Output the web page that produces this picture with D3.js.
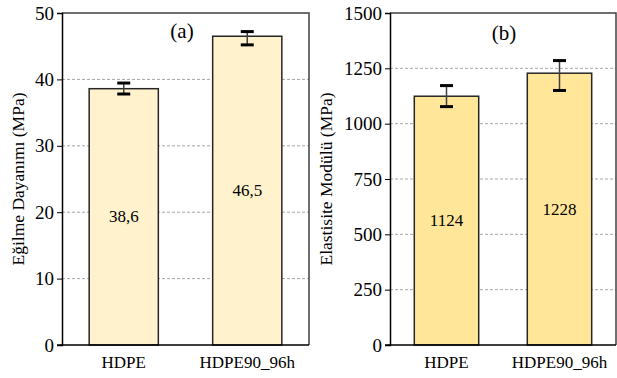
<!DOCTYPE html>
<html><head><meta charset="utf-8">
<script src="https://cdn.jsdelivr.net/npm/d3@7"></script>
<style>
body{margin:0;background:#fff;}
</style></head>
<body><svg id="c" width="617" height="378"></svg>
<script>
const categories = ["HDPE", "HDPE90_96h"];
const strengthValues = [38.6, 46.5];
const strengthLabels = ["38,6", "46,5"];
const strengthErrUp = [0.85, 0.7];
const strengthErrDown = [0.8, 1.3];
const strengthTicks = [0, 10, 20, 30, 40, 50];
const modulusValues = [1124, 1228];
const modulusLabels = ["1124", "1228"];
const modulusErrUp = [48, 57];
const modulusErrDown = [47, 78];
const modulusTicks = [0, 250, 500, 750, 1000, 1250, 1500];

const FONT = "'Liberation Serif', 'Times New Roman', Tinos, 'DejaVu Serif', serif";
const svg = d3.select("#c");

function panel(cfg){
  const g = svg.append("g");
  const x = d3.scaleBand().domain(categories).range([cfg.x0, cfg.x1]).paddingInner(cfg.pad).paddingOuter(cfg.pad/2);
  const y = d3.scaleLinear().domain(cfg.domain).range([cfg.y1, cfg.y0]);
  g.selectAll(".grid").data(cfg.ticks.filter(t=>t>cfg.domain[0] && t<cfg.domain[1])).enter().append("line")
    .attr("x1", cfg.x0).attr("x2", cfg.x1).attr("y1", d=>y(d)).attr("y2", d=>y(d))
    .attr("stroke", "#a6a6a6").attr("stroke-width", 1).attr("stroke-dasharray", "3,2");
  const data = categories.map((c,i)=>({c, v:cfg.values[i], l:cfg.labels[i], up:cfg.up[i], dn:cfg.dn[i]}));
  g.selectAll(".bar").data(data).enter().append("rect")
    .attr("x", d=>x(d.c)).attr("width", x.bandwidth())
    .attr("y", d=>y(d.v)).attr("height", d=>y(cfg.domain[0])-y(d.v))
    .attr("fill", cfg.fill).attr("stroke", "#262626").attr("stroke-width", 1.5);
  g.selectAll(".lab").data(data).enter().append("text")
    .attr("x", d=>x(d.c)+x.bandwidth()/2).attr("y", d=>(y(d.v)+y(cfg.domain[0]))/2)
    .attr("text-anchor","middle").attr("dominant-baseline","central")
    .style("font-family", FONT).attr("font-size", 17).text(d=>d.l);
  data.forEach(d=>{
    const cx = x(d.c)+x.bandwidth()/2;
    g.append("line").attr("x1",cx).attr("x2",cx).attr("y1",y(d.v+d.up)).attr("y2",y(d.v-d.dn))
      .attr("stroke","#404040").attr("stroke-width",1.5);
    [d.v+d.up, d.v-d.dn].forEach(v=>{
      g.append("line").attr("x1",cx-6.5).attr("x2",cx+6.5).attr("y1",y(v)).attr("y2",y(v))
        .attr("stroke","#000").attr("stroke-width",3);
    });
  });
  g.append("path").attr("d", `M${cfg.x0},${cfg.y0}H${cfg.x1}V${cfg.y1}`)
    .attr("fill","none").attr("stroke","#404040").attr("stroke-width",1.5);
  const ya = g.append("g").attr("transform",`translate(${cfg.x0},0)`)
    .call(d3.axisLeft(y).tickValues(cfg.ticks).tickFormat(d3.format("d")).tickSize(5).tickPadding(3));
  ya.select(".domain").attr("stroke","#000").attr("stroke-width",1.5);
  ya.selectAll(".tick line").attr("stroke","#000").attr("stroke-width",1);
  ya.selectAll("text").style("font-family", FONT).attr("font-size",19).attr("fill","#000");
  const xa = g.append("g").attr("transform",`translate(0,${cfg.y1})`)
    .call(d3.axisBottom(x).tickSize(0).tickPadding(11));
  xa.select(".domain").remove();
  g.append("line").attr("x1",cfg.x0-5).attr("x2",cfg.x1).attr("y1",cfg.y1).attr("y2",cfg.y1)
    .attr("stroke","#000").attr("stroke-width",1.5);
  xa.selectAll("text").style("font-family", FONT).attr("font-size",17).attr("fill","#000");
  g.append("text").attr("transform",`translate(${cfg.titleX},${(cfg.y0+cfg.y1)/2}) rotate(-90)`)
    .attr("text-anchor","middle").attr("dominant-baseline","central")
    .style("font-family", FONT).attr("font-size",17.5).text(cfg.title);
  g.append("text").attr("x",cfg.letterX).attr("y",cfg.letterY).attr("text-anchor","middle")
    .attr("dominant-baseline","central").style("font-family", FONT).attr("font-size",21).text(cfg.letter);
}

panel({x0:62, x1:309, y0:13, y1:345, domain:[0,50], ticks:strengthTicks, pad:0.44,
  values:strengthValues, labels:strengthLabels, up:strengthErrUp, dn:strengthErrDown,
  fill:"#FFF2CC", title:"Eğilme Dayanımı (MPa)", titleX:18, letter:"(a)", letterX:182, letterY:31});
panel({x0:390, x1:616, y0:13, y1:345, domain:[0,1500], ticks:modulusTicks, pad:0.43,
  values:modulusValues, labels:modulusLabels, up:modulusErrUp, dn:modulusErrDown,
  fill:"#FFE699", title:"Elastisite Modülü (MPa)", titleX:326, letter:"(b)", letterX:504, letterY:33});
</script></body></html>
